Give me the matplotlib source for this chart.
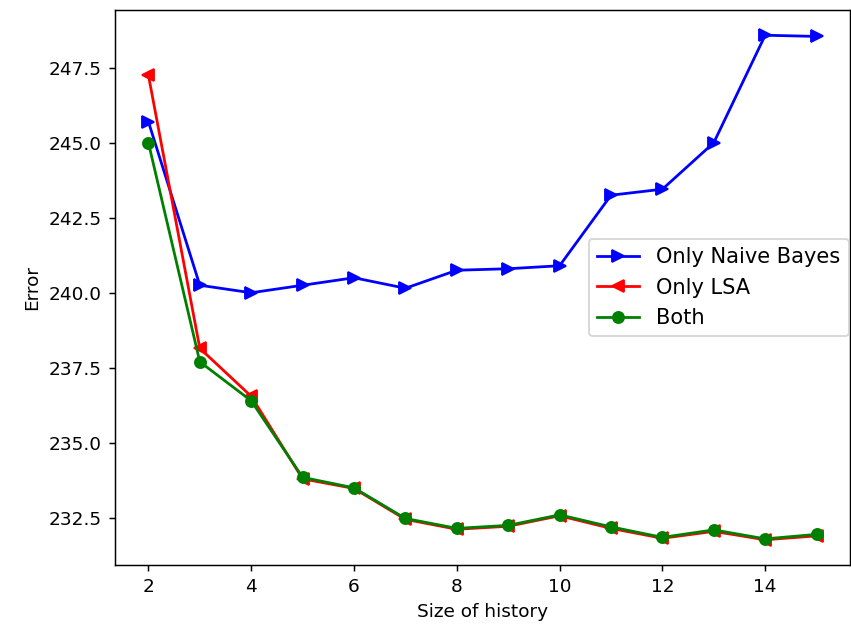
import matplotlib
matplotlib.use("Agg")
import matplotlib.pyplot as plt

# history sizes
history = [2, 3, 4, 5, 6, 7, 8, 9, 10, 11, 12, 13, 14, 15]

# error values
naive_bayes = [245.7, 240.25, 240.0, 240.25, 240.5, 240.15, 240.75, 240.8, 240.9,
               243.25, 243.45, 245.0, 248.58, 248.54]
lsa = [247.25, 238.15, 236.55, 233.8, 233.48, 232.45, 232.12, 232.22, 232.57,
       232.15, 231.82, 232.05, 231.77, 231.9]
both = [245.0, 237.7, 236.4, 233.85, 233.5, 232.48, 232.15, 232.25, 232.6,
        232.2, 231.85, 232.1, 231.8, 231.95]

dpi = 133
fig = plt.figure(figsize=(851 / dpi, 630 / dpi), dpi=dpi)
ax = fig.add_axes([115 / 851, 1 - 565 / 630, (850 - 115) / 851, (565 - 10) / 630])

ax.plot(history, naive_bayes, color='blue', marker='>', label='Only Naive Bayes')
ax.plot(history, lsa, color='red', marker='<', label='Only LSA')
ax.plot(history, both, color='green', marker='o', label='Both')

ax.set_xlabel('Size of history')
ax.set_ylabel('Error')
ax.legend(loc='center right', fontsize=11.4, borderaxespad=0.05)

fig.savefig('out.png', dpi=dpi)
